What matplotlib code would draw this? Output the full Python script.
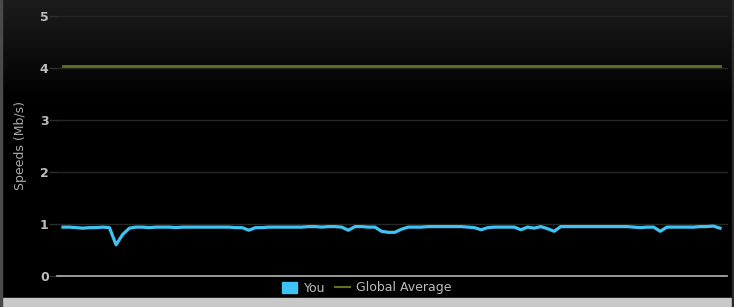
import numpy as np
import matplotlib
matplotlib.use("Agg")
import matplotlib.pyplot as plt
from matplotlib.patches import Rectangle
from matplotlib.lines import Line2D

# speed samples (Mb/s)
you_speeds = [
    0.94, 0.94, 0.93, 0.92, 0.93, 0.93, 0.94, 0.93, 0.60, 0.80,
    0.92, 0.94, 0.94, 0.93, 0.94, 0.94, 0.94, 0.93, 0.94, 0.94,
    0.94, 0.94, 0.94, 0.94, 0.94, 0.94, 0.93, 0.93, 0.88, 0.93,
    0.93, 0.94, 0.94, 0.94, 0.94, 0.94, 0.94, 0.95, 0.95, 0.94,
    0.95, 0.95, 0.94, 0.88, 0.95, 0.95, 0.94, 0.94, 0.86, 0.84,
    0.84, 0.90, 0.94, 0.94, 0.94, 0.95, 0.95, 0.95, 0.95, 0.95,
    0.95, 0.94, 0.93, 0.89, 0.93, 0.94, 0.94, 0.94, 0.94, 0.89,
    0.94, 0.92, 0.95, 0.91, 0.86, 0.95, 0.95, 0.95, 0.95, 0.95,
    0.95, 0.95, 0.95, 0.95, 0.95, 0.95, 0.94, 0.93, 0.94, 0.94,
    0.86, 0.94, 0.94, 0.94, 0.94, 0.94, 0.95, 0.95, 0.96, 0.92,
]
global_average = 4.03
y_ticks = [0, 1, 2, 3, 4, 5]

plt.rcParams['font.family'] = ['DejaVu Sans']

fig = plt.figure(figsize=(7.34, 3.07), dpi=100)
fig.patch.set_facecolor("black")

# background gradient (dark grey at top fading to black)
bg = fig.add_axes([0, 0, 1, 1], zorder=-10)
grad = np.linspace(0, 1, 256).reshape(-1, 1)
grad = np.clip(1 - grad * 3.0, 0, 1)
bg.imshow(grad, aspect="auto", cmap=matplotlib.colors.LinearSegmentedColormap.from_list(
    "g", ["#000000", "#1c1c1c"]), extent=[0, 1, 0, 1], vmin=0, vmax=1)
bg.set_axis_off()
# frame strips
fig.patches.append(Rectangle((0, 0), 1, 9 / 307, transform=fig.transFigure, color="#c9c9c9", zorder=5))
fig.patches.append(Rectangle((0, 0), 2 / 734, 1, transform=fig.transFigure, color="#4a4a4a", zorder=5))
fig.patches.append(Rectangle((732 / 734, 0), 2 / 734, 1, transform=fig.transFigure, color="#2a2a2a", zorder=5))

ax = fig.add_axes([57 / 734, 31 / 307, 670 / 734, 260 / 307])
ax.patch.set_alpha(0)
n = len(you_speeds)
x = np.arange(n)
# data spans pixel 63..720 inside an axes of 57..727
px_per = (720 - 63) / (n - 1)
ax.set_xlim(-(63 - 57) / px_per, (n - 1) + (727 - 720) / px_per)
ax.set_ylim(0, 5)

for t in y_ticks[1:]:
    ax.axhline(t, color="#262626", lw=1, zorder=1, clip_on=False)
ax.axhline(0, color="#b5b5b5", lw=1.2, zorder=2, clip_on=False)

ax.plot([x[0], x[-1]], [global_average, global_average], color="#5f7222", lw=2, zorder=3)
ax.plot(x, you_speeds, color="#3ec4f2", lw=2.3, zorder=4, solid_joinstyle="round")

ax.set_yticks(y_ticks)
ax.set_yticklabels([str(t) for t in y_ticks], color="#bdbdbd", fontsize=9, fontweight="bold")
ax.tick_params(axis="y", length=6, width=1, color="#2e2e2e", pad=0)
ax.set_xticks([])
for s in ax.spines.values():
    s.set_visible(False)
ax.set_ylabel("Speeds (Mb/s)", color="#aaaaaa", fontsize=9)
ax.yaxis.set_label_coords(-(57 - 27) / 670, 0.5)

handles = [
    Rectangle((0, 0), 1, 1, facecolor="#3ec4f2", edgecolor="#3ec4f2"),
    Line2D([0], [0], color="#5f7222", lw=1.5),
]
leg = fig.legend(handles, ["You", "Global Average"], loc="center", bbox_to_anchor=(0.5, 19 / 307),
                 ncol=2, frameon=False, fontsize=9, labelcolor="#bdbdbd",
                 handlelength=1.2, handleheight=1.0, handletextpad=0.5, columnspacing=0.8)

fig.savefig("out.png", dpi=100, facecolor=fig.get_facecolor())
